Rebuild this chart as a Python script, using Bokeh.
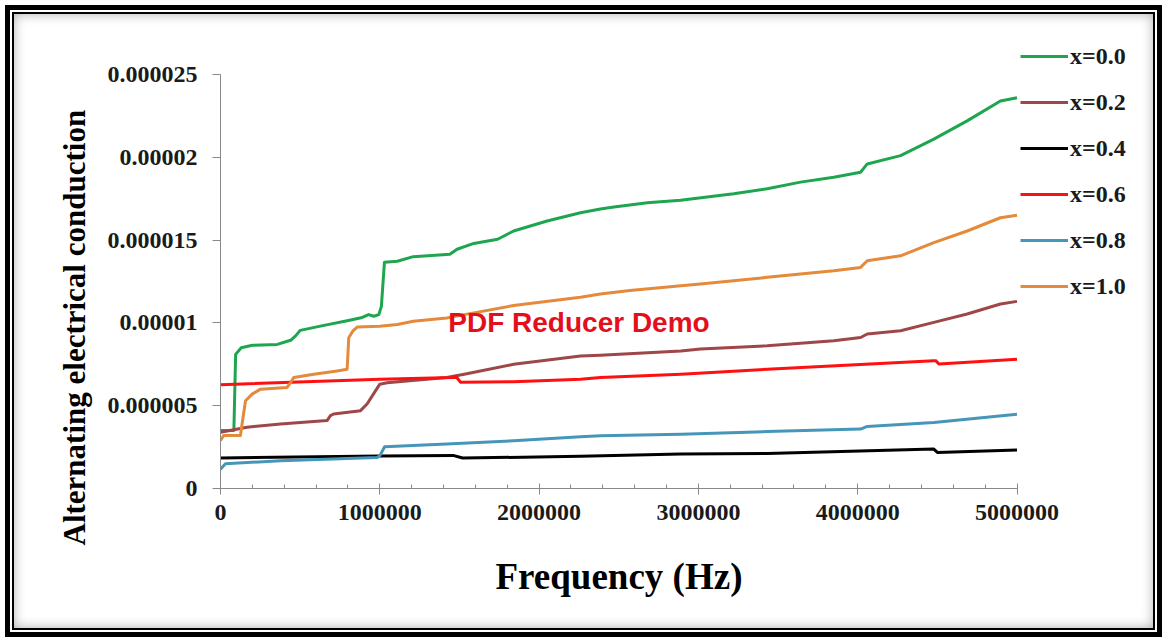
import numpy as np
from bokeh.plotting import figure
from bokeh.models import Range1d, FixedTicker, Legend, LegendItem, Label, Title
from bokeh.embed import file_html
from bokeh.resources import INLINE

# ---------------- data (conductance in micro-units, frequency in Hz) ----------------
series_names = ["x=0.0", "x=0.2", "x=0.4", "x=0.6", "x=0.8", "x=1.0"]

f_x00 = [0, 84000, 95000, 130000, 200000, 356000, 440000, 470000, 500000, 650000,
         795000, 890000, 930000, 962000, 994000, 1010000, 1029000, 1110000, 1210000,
         1440000, 1485000, 1590000, 1740000, 1840000, 2050000, 2260000, 2385000,
         2470000, 2680000, 2888000, 3222000, 3432000, 3641000, 3850000, 4018000,
         4060000, 4269000, 4478000, 4687000, 4896000, 5000000]
v_x00 = [3.5, 3.5, 8.1, 8.5, 8.65, 8.7, 8.95, 9.2, 9.55, 9.85,
         10.13, 10.33, 10.5, 10.4, 10.5, 11.0, 13.66, 13.72, 14.0,
         14.15, 14.45, 14.8, 15.05, 15.55, 16.15, 16.65, 16.88,
         17.0, 17.25, 17.4, 17.8, 18.1, 18.5, 18.8, 19.1,
         19.6, 20.1, 21.1, 22.2, 23.4, 23.6]

f_x02 = [0, 167000, 377000, 669000, 690000, 710000, 879000, 920000, 1000000, 1046000,
         1420000, 1530000, 1840000, 2260000, 2385000, 2890000, 3013000, 3432000,
         3850000, 4018000, 4060000, 4269000, 4478000, 4687000, 4896000, 5000000]
v_x02 = [3.4, 3.7, 3.9, 4.1, 4.4, 4.5, 4.7, 5.1, 6.3, 6.38,
         6.7, 6.9, 7.5, 8.0, 8.05, 8.3, 8.42, 8.62,
         8.92, 9.12, 9.33, 9.53, 10.03, 10.54, 11.14, 11.3]

f_x04 = [0, 1000000, 1460000, 1520000, 2260000, 2890000, 3432000, 4478000, 4500000, 5000000]
v_x04 = [1.84, 1.97, 2.0, 1.84, 1.94, 2.08, 2.12, 2.38, 2.18, 2.32]

f_x06 = [0, 1000000, 1464000, 1480000, 1506000, 1840000, 2260000, 2385000, 2890000,
         3432000, 4478000, 4490000, 4510000, 5000000]
v_x06 = [6.27, 6.6, 6.7, 6.75, 6.42, 6.45, 6.6, 6.7, 6.9,
         7.2, 7.72, 7.72, 7.52, 7.8]

f_x08 = [0, 31000, 377000, 983000, 1000000, 1030000, 1420000, 1840000, 2260000,
         2385000, 2890000, 3432000, 4018000, 4060000, 4478000, 5000000]
v_x08 = [1.17, 1.5, 1.67, 1.87, 1.97, 2.52, 2.68, 2.88, 3.12,
         3.18, 3.28, 3.44, 3.59, 3.75, 3.99, 4.49]

f_x10 = [0, 20000, 125000, 140000, 157000, 199000, 251000, 418000, 440000, 460000,
         586000, 732000, 795000, 805000, 830000, 858000, 1000000, 1110000, 1210000,
         1420000, 1530000, 1840000, 2260000, 2385000, 2570000, 2890000, 3013000,
         3432000, 3850000, 4018000, 4060000, 4269000, 4478000, 4687000, 4896000, 5000000]
v_x10 = [2.9, 3.2, 3.2, 4.2, 5.3, 5.7, 6.0, 6.1, 6.4, 6.7,
         6.9, 7.1, 7.2, 9.1, 9.5, 9.75, 9.8, 9.9, 10.1,
         10.3, 10.5, 11.05, 11.55, 11.75, 11.95, 12.25, 12.35,
         12.75, 13.15, 13.35, 13.75, 14.05, 14.85, 15.55, 16.35, 16.5]

series_colors = ["#1ea64f", "#9e4648", "#000000", "#ff1010", "#4596b8", "#e48a3a"]

x_ticks = [0, 1000000, 2000000, 3000000, 4000000, 5000000]
x_tick_labels = ["0", "1000000", "2000000", "3000000", "4000000", "5000000"]
x_minor_ticks = [200000, 400000, 600000, 800000, 1200000, 1400000, 1600000, 1800000,
                 2200000, 2400000, 2600000, 2800000, 3200000, 3400000, 3600000, 3800000,
                 4200000, 4400000, 4600000, 4800000]
x_axis_max = 5000000
y_ticks = [0, 5e-06, 1e-05, 1.5e-05, 2e-05, 2.5e-05]
y_tick_labels = ["0", "0.000005", "0.00001", "0.000015", "0.00002", "0.000025"]
y_axis_max = 2.5e-05

x_title = "Frequency (Hz)"
y_title = "Alternating electrical conduction"
watermark = "PDF Reducer Demo"

# ---------------- figure ----------------
W, H = 1157, 632
MB_L, MB_R, MB_T, MB_B = 215, 12, 35, 149
frame_w = W - MB_L - MB_R          # 930 px (axis spans 796.5 px of it)
frame_h = H - MB_T - MB_B          # 448 px (axis spans 414 px of it)
x_end = x_axis_max * frame_w / 796.5
y_end = y_axis_max * frame_h / 414.0

p = figure(width=W, height=H, output_backend="svg", toolbar_location=None,
           x_range=Range1d(0, x_end), y_range=Range1d(0, y_end),
           min_border_left=MB_L, min_border_right=MB_R, min_border_top=MB_T,
           min_border_bottom=MB_B)
p.styles = {
    "position": "absolute", "left": "5px", "top": "5px",
    "background-color": "white",
    "box-shadow": "inset 0 0 0 5px #000, inset 0 0 0 7px #fff, inset 0 0 0 9px #000, "
                  "inset 0 0 12px 9px #b0b0b0",
}
p.background_fill_color = None
p.border_fill_color = None
p.outline_line_color = None
p.xgrid.visible = False
p.ygrid.visible = False

axis_gray = "#8a8a8a"
serif = "Liberation Serif"

xa = p.xaxis[0]
xa.ticker = FixedTicker(ticks=x_ticks, minor_ticks=x_minor_ticks)
xa.major_label_overrides = dict(zip(x_ticks, x_tick_labels))
xa.bounds = (0, x_axis_max)
xa.axis_line_color = axis_gray
xa.major_tick_line_color = axis_gray
xa.minor_tick_line_color = axis_gray
xa.major_tick_in = 5
xa.major_tick_out = 6
xa.minor_tick_in = 4
xa.minor_tick_out = 0
xa.major_label_text_font = serif
xa.major_label_text_font_style = "bold"
xa.major_label_text_font_size = "24px"
xa.major_label_text_color = "#1a1a1a"
xa.major_label_standoff = 10

ya = p.yaxis[0]
ya.ticker = FixedTicker(ticks=y_ticks, minor_ticks=[])
ya.major_label_overrides = dict(zip(y_ticks, y_tick_labels))
ya.bounds = (0, y_axis_max)
ya.axis_line_color = axis_gray
ya.major_tick_line_color = axis_gray
ya.major_tick_in = 0
ya.major_tick_out = 8
ya.minor_tick_line_color = None
ya.major_label_text_font = serif
ya.major_label_text_font_style = "bold"
ya.major_label_text_font_size = "24px"
ya.major_label_text_color = "#1a1a1a"
ya.major_label_standoff = 15

ytitle = Title(text=y_title, align="left", offset=-57, standoff=26,
               text_font=serif, text_font_style="bold", text_font_size="31px",
               text_color="#000000")
p.add_layout(ytitle, "left")

xtitle = Title(text=x_title, align="left", offset=275, standoff=62,
               text_font=serif, text_font_style="bold", text_font_size="37px",
               text_color="#000000")
p.add_layout(xtitle, "below")

freqs = [f_x00, f_x02, f_x04, f_x06, f_x08, f_x10]
vals = [v_x00, v_x02, v_x04, v_x06, v_x08, v_x10]

items = []
for name, f, v, c in zip(series_names, freqs, vals, series_colors):
    r = p.line(np.array(f, dtype=float), np.array(v) * 1e-6, line_color=c,
               line_width=3, line_join="round")
    items.append(LegendItem(label=name, renderers=[r]))

legend_h = 6 * 28 + 5 * 18
legend_top = 37 - MB_T                      # px below the frame top
legend = Legend(items=items,
                location=(800, int(frame_h - legend_top - legend_h)),
                border_line_color=None, background_fill_alpha=0,
                padding=0, margin=0, spacing=18, glyph_width=48, glyph_height=28,
                label_height=28, label_standoff=2,
                label_text_font=serif, label_text_font_style="bold",
                label_text_font_size="24px", label_text_color="#1a1a1a",
                label_text_baseline="middle")
p.add_layout(legend, "center")

p.add_layout(Label(x=1430000, y=1.0e-05, text=watermark, text_font="Liberation Sans",
                   text_font_style="bold", text_font_size="28px", text_color="#e3101c",
                   text_baseline="middle"))

open("out.html", "w").write(file_html(p, INLINE))
